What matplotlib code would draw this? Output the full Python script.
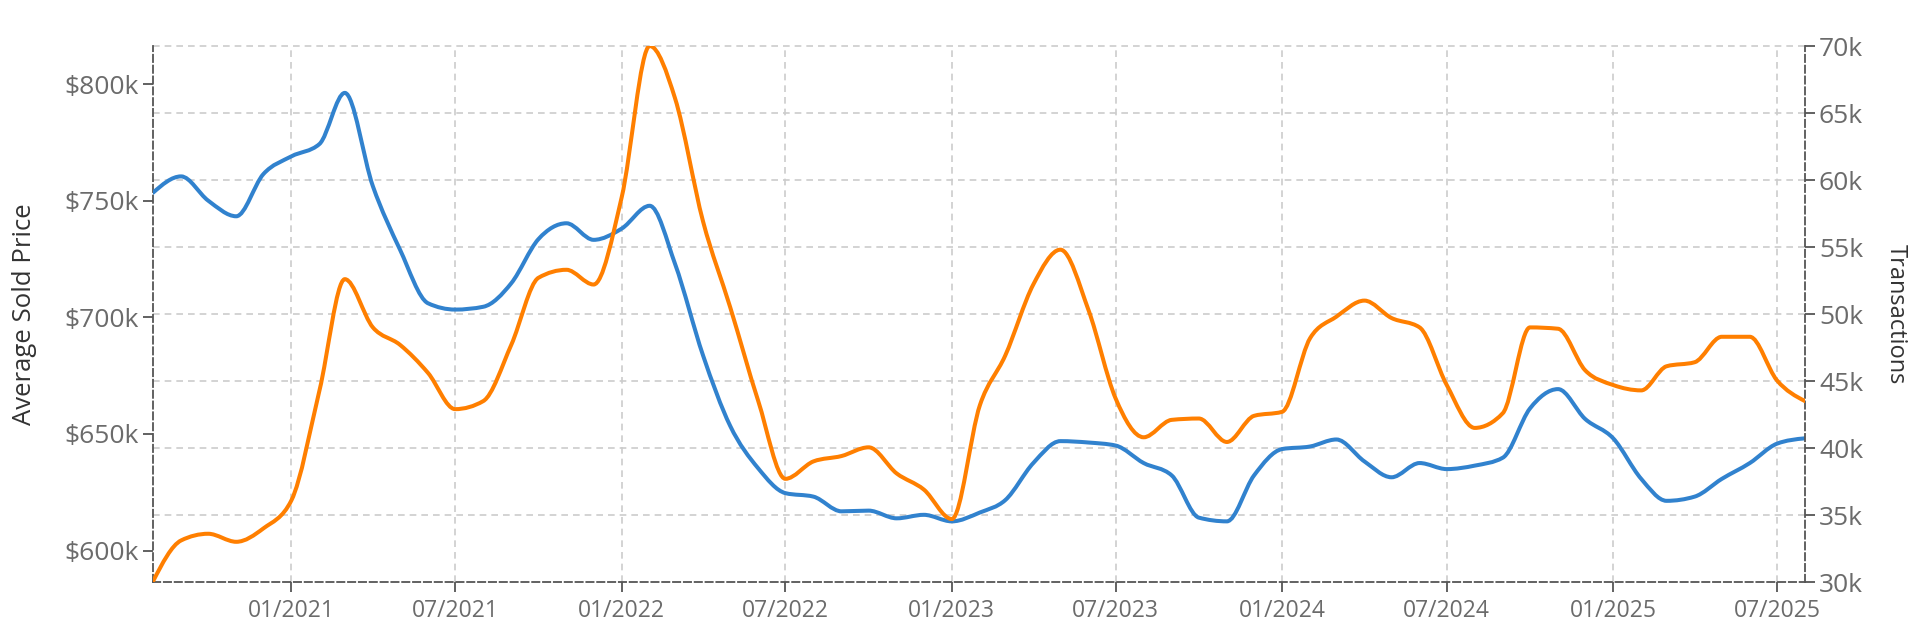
import matplotlib
matplotlib.use("Agg")
import matplotlib.pyplot as plt
import matplotlib.dates as mdates
from matplotlib.path import Path
from matplotlib.patches import PathPatch
from matplotlib.ticker import FuncFormatter, FixedLocator
from matplotlib.transforms import blended_transform_factory
import numpy as np
import pandas as pd

# monthly values, Aug 2020 .. Aug 2025
months = pd.date_range("2020-08-01", periods=61, freq="MS")

avg_price = [
    753.4, 760.4, 750.0, 743.3, 761.4, 769.0, 774.3, 796.2, 756.2, 729.0,
    706.0, 703.3, 704.5, 714.6, 733.5, 740.3, 733.2, 738.0, 747.8, 722.9,
    683.6, 653.4, 635.2, 624.6, 623.1, 616.8, 617.1, 613.8, 615.3, 612.5,
    616.3, 621.6, 637.5, 646.9, 646.3, 645.0, 637.5, 632.2, 614.1, 612.5,
    632.2, 643.5, 644.6, 647.6, 638.2, 631.4, 637.5, 634.9, 636.4, 639.8,
    660.9, 669.2, 656.4, 648.1, 630.7, 621.3, 623.1, 630.7, 637.5, 645.8,
    648.1,
]
transactions = [
    30.05, 33.1, 33.6, 33.0, 34.0, 36.1, 44.3, 52.6, 49.0, 47.7,
    45.6, 42.9, 43.5, 47.7, 52.7, 53.3, 52.2, 58.7, 70.0, 66.1,
    56.9, 50.5, 43.5, 37.7, 39.0, 39.4, 40.05, 38.1, 36.9, 34.7,
    43.2, 46.9, 52.2, 54.8, 50.3, 43.7, 40.8, 42.1, 42.2, 40.45,
    42.4, 42.7, 48.2, 49.8, 51.0, 49.7, 49.0, 44.7, 41.5, 42.6,
    49.0, 48.9, 45.8, 44.7, 44.3, 46.1, 46.4, 48.3, 48.3, 45.05,
    43.5,
]

price_ticks = [600, 650, 700, 750, 800]
trans_ticks = [30, 35, 40, 45, 50, 55, 60, 65, 70]
date_ticks = pd.date_range("2021-01-01", "2025-07-01", freq="6MS")

BLUE = "#3182ce"
ORANGE = "#ff7f00"
AXIS_GREY = "#555555"
TEXT_GREY = "#6b6b6b"


def monotone_path(x, y):
    # smooth monotone cubic drawn as bezier segments
    x = np.asarray(x, float)
    y = np.asarray(y, float)
    h = np.diff(x)
    s = np.diff(y) / h
    t = np.zeros_like(y)
    for i in range(1, len(y) - 1):
        p = (s[i - 1] * h[i] + s[i] * h[i - 1]) / (h[i - 1] + h[i])
        t[i] = (np.sign(s[i - 1]) + np.sign(s[i])) * min(abs(s[i - 1]), abs(s[i]), 0.5 * abs(p))
    t[0] = (3 * s[0] - t[1]) / 2
    t[-1] = (3 * s[-1] - t[-2]) / 2
    verts = [(x[0], y[0])]
    codes = [Path.MOVETO]
    for i in range(len(h)):
        d = h[i] / 3
        verts += [(x[i] + d, y[i] + t[i] * d), (x[i + 1] - d, y[i + 1] - t[i + 1] * d), (x[i + 1], y[i + 1])]
        codes += [Path.CURVE4] * 3
    return Path(verts, codes)


plt.rcParams["font.family"] = ["Open Sans", "DejaVu Sans"]

fig = plt.figure(figsize=(19.2, 6.39), dpi=100)
ax = fig.add_axes([0.0797, 0.0892, 0.8604, 0.8388])
ax2 = ax.twinx()

xnum = mdates.date2num(months)
ax.add_patch(PathPatch(monotone_path(xnum, np.array(avg_price) * 1000), fill=False,
                       edgecolor=BLUE, linewidth=2.9, capstyle="round", joinstyle="round", zorder=3))
ax2.add_patch(PathPatch(monotone_path(xnum, np.array(transactions) * 1000), fill=False,
                        edgecolor=ORANGE, linewidth=2.9, capstyle="round", joinstyle="round", zorder=3))

ax.set_xlim(mdates.date2num(pd.Timestamp("2020-08-01")), mdates.date2num(pd.Timestamp("2025-08-01")))
ax.set_ylim(586500, 816300)
ax2.set_ylim(30000, 70000)

# grid: verticals from dates, horizontals from the transactions scale
ax.xaxis.set_major_locator(FixedLocator(mdates.date2num(date_ticks)))
ax.xaxis.set_major_formatter(mdates.DateFormatter("%m/%Y"))
ax.grid(axis="x", color="#cccccc", linestyle=(0, (4, 3)), linewidth=1.2, zorder=0)
ax.set_axisbelow(True)
trans = blended_transform_factory(ax.transAxes, ax2.transData)
for v in trans_ticks[1:]:
    ax.plot([0, 1], [v * 1000, v * 1000], transform=trans, color="#cccccc",
            linestyle=(0, (4, 3)), linewidth=1.2, zorder=0, clip_on=False)

ax.set_yticks([v * 1000 for v in price_ticks])
ax.yaxis.set_major_formatter(FuncFormatter(lambda v, p: "${:.0f}k".format(v / 1000)))
ax2.set_yticks([v * 1000 for v in trans_ticks])
ax2.yaxis.set_major_formatter(FuncFormatter(lambda v, p: "{:.0f}k".format(v / 1000)))

for a in (ax, ax2):
    a.tick_params(axis="both", colors=AXIS_GREY, labelcolor=TEXT_GREY, length=7, width=1.3)
    for sp in a.spines.values():
        sp.set_visible(False)
ax.tick_params(axis="y", labelsize=19, pad=3)
ax.tick_params(axis="x", labelsize=16.5, pad=5)
ax2.tick_params(axis="y", labelsize=19, pad=3)

for a, side in ((ax, "left"), (ax, "bottom"), (ax2, "right")):
    sp = a.spines[side]
    sp.set_visible(True)
    sp.set_color(AXIS_GREY)
    sp.set_linestyle((0, (4, 2)))
    sp.set_linewidth(1.3)

ax.set_ylabel("Average Sold Price", fontsize=18.5, color="#333333", labelpad=20)
ax2.set_ylabel("Transactions", fontsize=17, color="#333333", rotation=-90, labelpad=32)

fig.savefig("out.png", dpi=100, facecolor="white")
